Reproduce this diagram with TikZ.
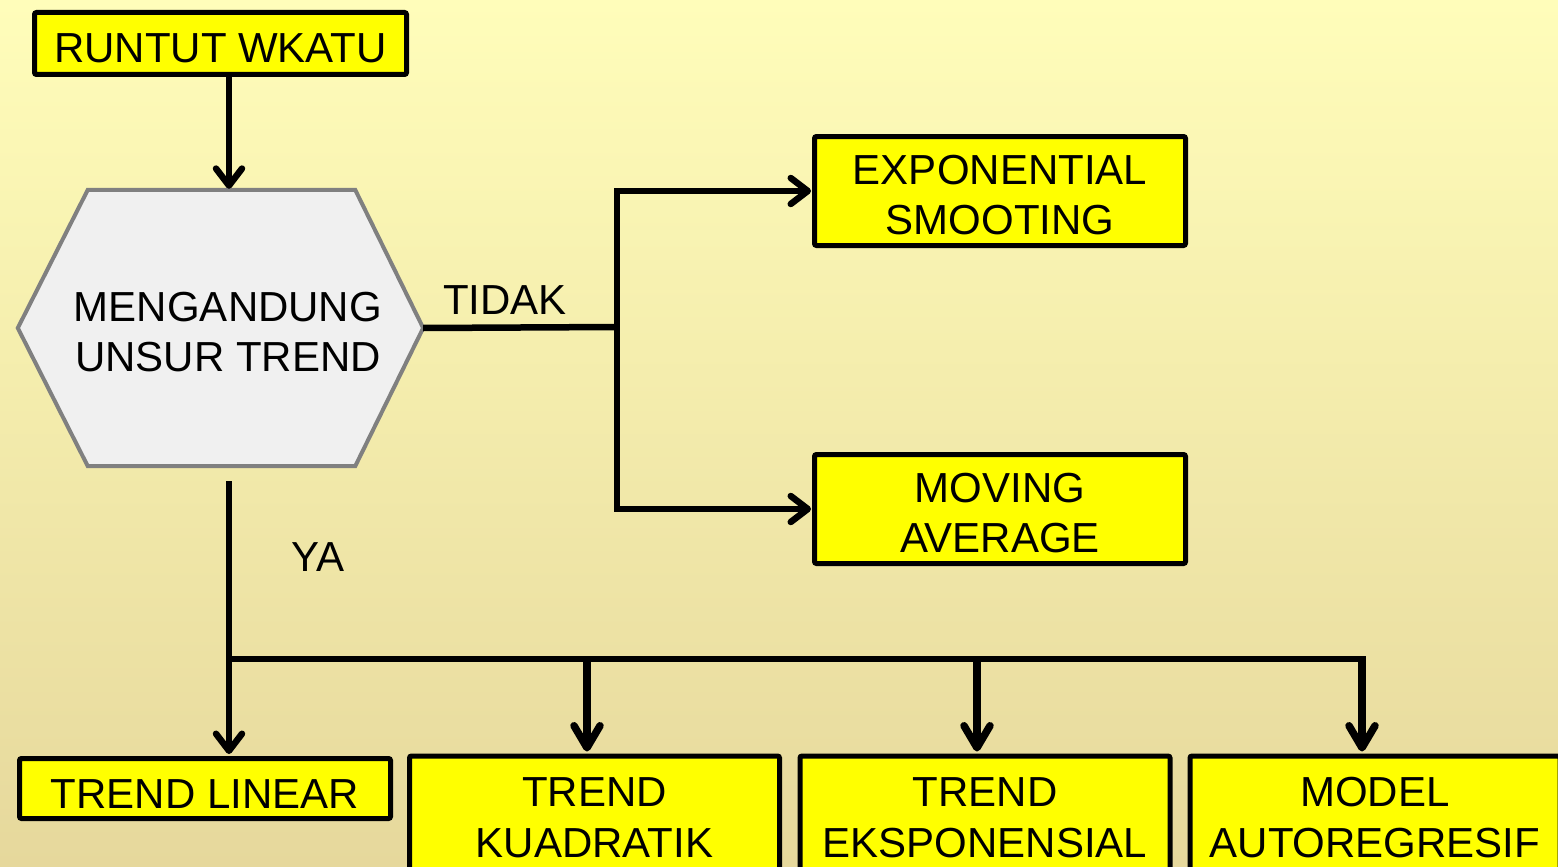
\documentclass[tikz,border=0pt]{standalone}
\usepackage{fontspec}
\setmainfont{Liberation Sans}
\usetikzlibrary{arrows.meta,calc}
\definecolor{boxyellow}{HTML}{FFFF00}
\definecolor{bgtop}{HTML}{FFFDBA}
\definecolor{bgmid}{HTML}{F7EEAE}
\definecolor{bgbot}{HTML}{E6D89C}
\definecolor{hexfill}{HTML}{F0F0F0}
\definecolor{hexline}{HTML}{808080}
\begin{document}
\begin{tikzpicture}[x=1pt,y=-1pt,
  ybox/.style={draw=black, line width=5pt, fill=boxyellow, rounded corners=2pt,
    inner sep=0pt, align=center, font=\fontsize{42}{50}\selectfont},
  onebox/.style={ybox, text height=39pt},
  topbox/.style={ybox, minimum width=371pt, minimum height=109pt, text height=88pt},
  botbox/.style={ybox, minimum width=370pt, minimum height=124pt,
    font=\fontsize{42}{51}\selectfont},
  conn/.style={line width=6.5pt},
  arr/.style={conn, -{Straight Barb[length=17pt,width=26pt,round]}},
  barr/.style={line width=7.5pt, -{Straight Barb[length=22pt,width=26pt,round]}},
  lbl/.style={font=\fontsize{42}{50}\selectfont, inner sep=0pt, align=center},
  hexshape/.style={fill=hexfill, draw=hexline, line width=4pt, line join=miter}]
\useasboundingbox (0,0) rectangle (1558,867);
\fill[top color=bgtop, middle color=bgmid, bottom color=bgbot] (0,0) rectangle (1558,867);

% nodes
\node[onebox, minimum width=372pt, minimum height=62pt] (rw) at (220.5,43.5) {RUNTUT WKATU};
\node[minimum width=405pt, minimum height=276pt, inner sep=0pt] (hex) at (220.5,328) {};
\draw[hexshape] (hex.west) -- ($(hex.north west)+(70,0)$) -- ($(hex.north east)+(-68,0)$)
  -- (hex.east) -- ($(hex.south east)+(-68,0)$) -- ($(hex.south west)+(70,0)$) -- cycle;
\node[lbl] (hextxt) at ([xshift=7.5pt,yshift=-4pt]hex.center) {MENGANDUNG\\UNSUR TREND};

\node[topbox] (exp) at (1000,191) {EXPONENTIAL\\SMOOTING};
\node[topbox] (mov) at (1000,509) {MOVING\\AVERAGE};

\node[onebox, minimum width=371pt, minimum height=60pt] (lin) at (205,788.5) {TREND LINEAR};
\node[botbox] (kua) at (594.5,818) {TREND\\KUADRATIK};
\node[botbox] (eks) at (985,818) {TREND\\EKSPONENSIAL};
\node[botbox] (aut) at (1375,818) {MODEL\\AUTOREGRESIF};

\node[lbl] (tidak) at (505,300) {TIDAK};
\node[lbl] (ya) at (318,557) {YA};

% connectors
\draw[arr] ([xshift=8.5pt]rw.south) -- ([xshift=8.5pt,yshift=1pt]hex.north);

\coordinate (split) at (617,327);
\draw[conn] (hex.east) -- (split);
\draw[arr] (split) |- ([xshift=-1pt]exp.west);
\draw[arr] (split) |- ([xshift=-1pt]mov.west);

\coordinate (ya0) at (229,481);
\coordinate (bus) at (229,659);
\coordinate (busE) at (1366,659);
\draw[arr] (ya0) -- ([yshift=2pt]ya0 |- lin.north);
\draw[conn] (bus) -- (busE);
\coordinate (k1) at (587,659);
\coordinate (k2) at (977,659);
\coordinate (k3) at (1362,659);
\draw[barr] (k1) -- ([yshift=2pt]k1 |- kua.north);
\draw[barr] (k2) -- ([yshift=2pt]k2 |- eks.north);
\draw[barr] (k3) -- ([yshift=2pt]k3 |- aut.north);
\end{tikzpicture}
\end{document}
